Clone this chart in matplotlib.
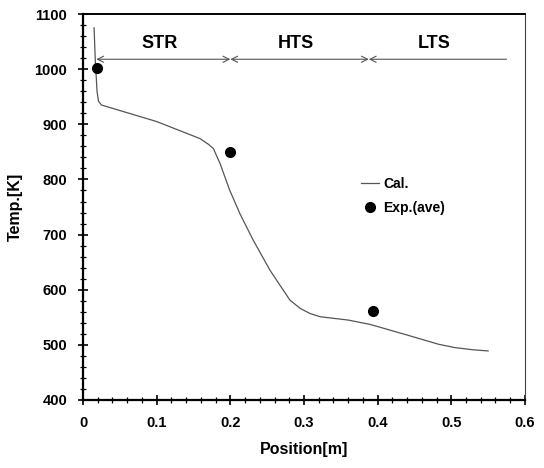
import matplotlib
matplotlib.use("Agg")
import matplotlib.pyplot as plt
from matplotlib.ticker import MultipleLocator

plt.rcParams['font.family'] = ['Liberation Sans', 'DejaVu Sans']

# calculated temperature profile
pos_cal = [0.015, 0.016, 0.017, 0.018, 0.019, 0.021, 0.025, 0.05, 0.10, 0.159, 0.170, 0.177,
           0.186, 0.199, 0.213, 0.231, 0.254, 0.281, 0.295, 0.308, 0.322, 0.36, 0.39,
           0.437, 0.483, 0.505, 0.53, 0.55]
temp_cal = [1075, 1040, 1005, 985, 960, 942, 935, 925, 905, 874, 864, 856,
            829, 781, 738, 690, 635, 581, 566, 557, 551, 545, 537,
            519, 501, 495, 491, 489]

# experimental averages
pos_exp = [0.0185, 0.199, 0.394]
temp_exp = [1002, 850, 561]

# zones
zone_edges = [0.018, 0.2, 0.388, 0.575]
zone_names = ["STR", "HTS", "LTS"]
zone_y = 1018

fig = plt.figure(figsize=(5.44, 4.68), dpi=100)
ax = fig.add_axes([0.1526, 0.1453, 0.8124, 0.8247])

ax.plot(pos_cal, temp_cal, color="#555555", lw=0.9, label="Cal.")
ax.plot(pos_exp, temp_exp, "o", color="black", ms=7, label="Exp.(ave)")

for i, name in enumerate(zone_names):
    x0, x1 = zone_edges[i], zone_edges[i + 1]
    if i < 2:
        props = dict(arrowstyle="<->", color="#555555", lw=0.8,
                     shrinkA=0, shrinkB=0, mutation_scale=11)
    else:
        props = dict(arrowstyle="->", color="#555555", lw=0.8,
                     shrinkA=0, shrinkB=0, mutation_scale=11)
    ax.annotate("", xy=(x0, zone_y), xytext=(x1, zone_y), arrowprops=props)
    ax.text((x0 + x1) / 2 - 0.005, 1047, name, ha="center", va="center",
            fontsize=13, fontweight="bold")

ax.set_xlim(0, 0.6)
ax.set_ylim(400, 1100)
ax.xaxis.set_minor_locator(MultipleLocator(0.02))
ax.yaxis.set_major_locator(MultipleLocator(100))
ax.yaxis.set_minor_locator(MultipleLocator(20))
ax.set_xticks([0, 0.1, 0.2, 0.3, 0.4, 0.5, 0.6])
ax.set_xticklabels(["0", "0.1", "0.2", "0.3", "0.4", "0.5", "0.6"])
ax.tick_params(which="major", direction="inout", length=7, width=1.2,
               labelsize=10.5, pad=8)
ax.tick_params(which="minor", direction="inout", length=4, width=0.9)
for lab in ax.get_xticklabels() + ax.get_yticklabels():
    lab.set_fontweight("bold")

ax.spines["left"].set_linewidth(1.6)
ax.spines["bottom"].set_linewidth(1.6)
ax.spines["top"].set_linewidth(1.4)
ax.spines["right"].set_linewidth(0.8)
ax.spines["right"].set_color("#444444")

ax.set_xlabel("Position[m]", fontsize=11.5, fontweight="bold", labelpad=9)
ax.set_ylabel("Temp.[K]", fontsize=11.5, fontweight="bold", labelpad=8)

ax.legend(loc="upper left", bbox_to_anchor=(0.6, 0.61), frameon=False,
          prop={"weight": "bold", "size": 10},
          handlelength=1.3, handletextpad=0.3, labelspacing=0.7)

fig.savefig("out.png", dpi=100)
